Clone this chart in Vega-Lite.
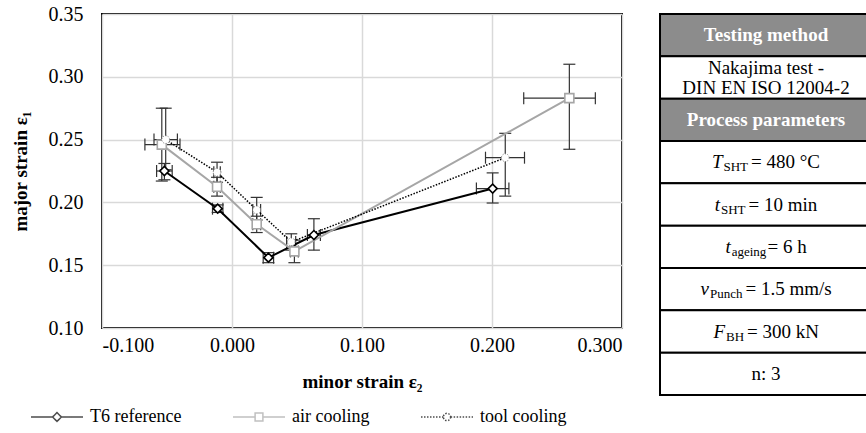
{
  "$schema": "https://vega.github.io/schema/vega-lite/v6.json",
  "padding": {"left": 10, "top": 3, "right": 0, "bottom": 0},
  "background": "white",
  "spacing": 36,
  "config": {
    "font": "Liberation Serif",
    "view": {"stroke": "black", "strokeWidth": 2},
    "axis": {
      "labelFont": "Liberation Serif", "titleFont": "Liberation Serif",
      "labelColor": "black", "titleColor": "black",
      "labelFontSize": 20, "titleFontSize": 19, "titleFontWeight": "bold",
      "domain": false, "ticks": false, "tickSize": 0,
      "gridColor": "#d9d9d9", "gridWidth": 1.5
    },
    "legend": {"labelFont": "Liberation Serif", "labelFontSize": 18, "labelColor": "black"}
  },
  "hconcat": [
    {
      "width": 520,
      "height": 314,
      "data": {"values": [
        {"series": "T6 reference", "x": -0.052, "y": 0.225, "xlo": -0.058, "xhi": -0.046, "ylo": 0.218, "yhi": 0.231},
        {"series": "T6 reference", "x": -0.011, "y": 0.195, "xlo": -0.015, "xhi": -0.007, "ylo": 0.192, "yhi": 0.198},
        {"series": "T6 reference", "x": 0.028, "y": 0.156, "xlo": 0.024, "xhi": 0.032, "ylo": 0.152, "yhi": 0.160},
        {"series": "T6 reference", "x": 0.063, "y": 0.174, "xlo": 0.058, "xhi": 0.068, "ylo": 0.162, "yhi": 0.187},
        {"series": "T6 reference", "x": 0.2005, "y": 0.211, "xlo": 0.188, "xhi": 0.213, "ylo": 0.1995, "yhi": 0.2235},
        {"series": "air cooling", "x": -0.054, "y": 0.246, "xlo": -0.067, "xhi": -0.040, "ylo": 0.217, "yhi": 0.275},
        {"series": "air cooling", "x": -0.0115, "y": 0.2125, "xlo": -0.014, "xhi": -0.009, "ylo": 0.205, "yhi": 0.220},
        {"series": "air cooling", "x": 0.019, "y": 0.1826, "xlo": 0.016, "xhi": 0.022, "ylo": 0.176, "yhi": 0.189},
        {"series": "air cooling", "x": 0.048, "y": 0.161, "xlo": 0.045, "xhi": 0.051, "ylo": 0.152, "yhi": 0.170},
        {"series": "air cooling", "x": 0.2595, "y": 0.283, "xlo": 0.2244, "xhi": 0.2795, "ylo": 0.2423, "yhi": 0.310},
        {"series": "tool cooling", "x": -0.051, "y": 0.250, "xlo": -0.060, "xhi": -0.042, "ylo": 0.226, "yhi": 0.275},
        {"series": "tool cooling", "x": -0.0115, "y": 0.224, "xlo": -0.014, "xhi": -0.009, "ylo": 0.216, "yhi": 0.232},
        {"series": "tool cooling", "x": 0.019, "y": 0.194, "xlo": 0.016, "xhi": 0.022, "ylo": 0.186, "yhi": 0.204},
        {"series": "tool cooling", "x": 0.0456, "y": 0.1685, "xlo": 0.042, "xhi": 0.049, "ylo": 0.162, "yhi": 0.175},
        {"series": "tool cooling", "x": 0.2102, "y": 0.2356, "xlo": 0.195, "xhi": 0.225, "ylo": 0.205, "yhi": 0.255}
      ]},
      "encoding": {
        "x": {"field": "x", "type": "quantitative",
          "scale": {"domain": [-0.1, 0.3], "nice": false, "zero": false},
          "axis": {"title": "minor strain ε₂", "values": [-0.1, 0, 0.1, 0.2, 0.3],
            "labelExpr": "datum.value < 0 ? '-' + format(-datum.value, '.3f') : format(datum.value, '.3f')",
            "labelPadding": 7, "titlePadding": 17, "grid": true}},
        "y": {"field": "y", "type": "quantitative",
          "scale": {"domain": [0.1, 0.35], "nice": false, "zero": false},
          "axis": {"title": "major strain ε₁", "values": [0.1, 0.15, 0.2, 0.25, 0.3, 0.35],
            "format": ".2f", "labelPadding": 19, "titlePadding": 18, "grid": true}}
      },
      "layer": [
        {"mark": {"type": "rule", "color": "#333333", "strokeWidth": 1.2},
         "encoding": {"y": {"field": "ylo", "type": "quantitative"}, "y2": {"field": "yhi"}}},
        {"mark": {"type": "rule", "color": "#333333", "strokeWidth": 1.2},
         "encoding": {"x": {"field": "xlo", "type": "quantitative"}, "x2": {"field": "xhi"}}},
        {"mark": {"type": "point", "shape": "stroke", "color": "#333333", "size": 144, "strokeWidth": 1.2, "opacity": 1},
         "encoding": {"y": {"field": "ylo", "type": "quantitative"}}},
        {"mark": {"type": "point", "shape": "stroke", "color": "#333333", "size": 144, "strokeWidth": 1.2, "opacity": 1},
         "encoding": {"y": {"field": "yhi", "type": "quantitative"}}},
        {"mark": {"type": "point", "shape": "stroke", "angle": 90, "color": "#333333", "size": 144, "strokeWidth": 1.2, "opacity": 1},
         "encoding": {"x": {"field": "xlo", "type": "quantitative"}}},
        {"mark": {"type": "point", "shape": "stroke", "angle": 90, "color": "#333333", "size": 144, "strokeWidth": 1.2, "opacity": 1},
         "encoding": {"x": {"field": "xhi", "type": "quantitative"}}},
        {"transform": [{"filter": "datum.series === 'T6 reference'"}],
         "mark": {"type": "line", "color": "black", "strokeWidth": 2}, "encoding": {}},
        {"transform": [{"filter": "datum.series === 'air cooling'"}],
         "mark": {"type": "line", "color": "#a6a6a6", "strokeWidth": 2}, "encoding": {}},
        {"transform": [{"filter": "datum.series === 'tool cooling'"}],
         "mark": {"type": "line", "color": "black", "strokeWidth": 1.5, "strokeDash": [1.5, 1.5]}, "encoding": {}},
        {"transform": [{"filter": "datum.series === 'T6 reference'"}],
         "mark": {"type": "point", "shape": "diamond", "filled": true, "fill": "white", "stroke": "black", "strokeWidth": 1.6, "size": 81, "opacity": 1}},
        {"transform": [{"filter": "datum.series === 'air cooling'"}],
         "mark": {"type": "point", "shape": "square", "filled": true, "fill": "white", "stroke": "#a6a6a6", "strokeWidth": 1.6, "size": 81, "opacity": 1}},
        {"transform": [{"filter": "datum.series === 'tool cooling'"}],
         "mark": {"type": "point", "shape": "circle", "filled": true, "fill": "white", "stroke": "#777777", "strokeWidth": 1, "strokeDash": [1, 1.5], "size": 60, "opacity": 1}},
        {"transform": [{"filter": "false"}],
         "mark": {"type": "point", "filled": false},
         "encoding": {
           "shape": {"field": "series", "type": "nominal",
             "scale": {"domain": ["T6 reference", "air cooling", "tool cooling"],
               "range": [
                 "M-1,0H-0.17M0.17,0H1M0,-0.17L0.17,0L0,0.17L-0.17,0Z",
                 "M-1,0H-0.15M0.15,0H1M-0.15,-0.15H0.15V0.15H-0.15Z",
                 "M-1,0H-0.14M0.14,0H1M0.14,0A0.14,0.14,0,1,1,-0.14,0A0.14,0.14,0,1,1,0.14,0Z"]},
             "legend": {"orient": "none", "legendX": -72, "legendY": 376, "direction": "horizontal", "title": null,
               "symbolSize": 2704, "symbolStrokeWidth": 1.5, "columnPadding": 48, "labelOffset": 6, "symbolFillColor": "white"}},
           "color": {"field": "series", "type": "nominal",
             "scale": {"domain": ["T6 reference", "air cooling", "tool cooling"], "range": ["black", "#a6a6a6", "black"]}},
           "strokeDash": {"field": "series", "type": "nominal",
             "scale": {"domain": ["T6 reference", "air cooling", "tool cooling"], "range": [[1, 0], [1, 0], [1.5, 1.5]]}}
         }}
      ]
    },
    {
      "width": 212,
      "height": 381,
      "data": {"values": [
        {"row": 1, "kind": "header", "text": "Testing method"},
        {"row": 2, "kind": "body", "text": ["Nakajima test -", "DIN EN ISO 12004-2"]},
        {"row": 3, "kind": "header", "text": "Process parameters"},
        {"row": 4, "kind": "param", "sym": "T", "sub": "SHT", "rest": "= 480 °C"},
        {"row": 5, "kind": "param", "sym": "t", "sub": "SHT", "rest": "= 10 min"},
        {"row": 6, "kind": "param", "sym": "t", "sub": "ageing", "rest": "= 6 h"},
        {"row": 7, "kind": "param", "sym": "v", "sub": "Punch", "rest": "= 1.5 mm/s"},
        {"row": 8, "kind": "param", "sym": "F", "sub": "BH", "rest": "= 300 kN"},
        {"row": 9, "kind": "body", "text": "n: 3"}
      ]},
      "view": {"stroke": null},
      "encoding": {
        "y": {"field": "row", "type": "ordinal", "axis": null, "scale": {"paddingInner": 0, "paddingOuter": 0}},
        "x": {"datum": 0.5, "type": "quantitative", "axis": null, "scale": {"domain": [0, 1], "nice": false, "zero": false}}
      },
      "layer": [
        {"mark": {"type": "rect", "stroke": "black", "strokeWidth": 2},
         "encoding": {
           "x": {"datum": 0, "type": "quantitative"},
           "x2": {"datum": 1},
           "fill": {"field": "kind", "type": "nominal", "scale": {"domain": ["header", "body", "param"], "range": ["#8c8c8c", "white", "white"]}, "legend": null}
         }},
        {"transform": [{"filter": "datum.kind === 'header'"}],
         "mark": {"type": "text", "fontSize": 19, "fontWeight": "bold", "color": "white"},
         "encoding": {"text": {"field": "text"}}},
        {"transform": [{"filter": "datum.row === 2"}],
         "mark": {"type": "text", "fontSize": 19, "color": "black", "lineHeight": 20, "dy": -10},
         "encoding": {"text": {"field": "text"}}},
        {"transform": [{"filter": "datum.row === 9"}],
         "mark": {"type": "text", "fontSize": 19, "color": "black"},
         "encoding": {"text": {"field": "text"}}},
        {"transform": [{"filter": "datum.row === 4"}], "mark": {"type": "text", "color": "black", "fontSize": 19, "fontStyle": "italic", "align": "right", "dx": -43.5}, "encoding": {"text": {"field": "sym"}}},
        {"transform": [{"filter": "datum.row === 4"}], "mark": {"type": "text", "color": "black", "dy": 5, "fontSize": 13, "align": "left", "dx": -42.5}, "encoding": {"text": {"field": "sub"}}},
        {"transform": [{"filter": "datum.row === 4"}], "mark": {"type": "text", "color": "black", "fontSize": 19, "align": "left", "dx": -15}, "encoding": {"text": {"field": "rest"}}},
        {"transform": [{"filter": "datum.row === 5"}], "mark": {"type": "text", "color": "black", "fontSize": 19, "fontStyle": "italic", "align": "right", "dx": -46}, "encoding": {"text": {"field": "sym"}}},
        {"transform": [{"filter": "datum.row === 5"}], "mark": {"type": "text", "color": "black", "dy": 5, "fontSize": 13, "align": "left", "dx": -45}, "encoding": {"text": {"field": "sub"}}},
        {"transform": [{"filter": "datum.row === 5"}], "mark": {"type": "text", "color": "black", "fontSize": 19, "align": "left", "dx": -17.5}, "encoding": {"text": {"field": "rest"}}},
        {"transform": [{"filter": "datum.row === 6"}], "mark": {"type": "text", "color": "black", "fontSize": 19, "fontStyle": "italic", "align": "right", "dx": -35.3}, "encoding": {"text": {"field": "sym"}}},
        {"transform": [{"filter": "datum.row === 6"}], "mark": {"type": "text", "color": "black", "dy": 5, "fontSize": 13, "align": "left", "dx": -34.3}, "encoding": {"text": {"field": "sub"}}},
        {"transform": [{"filter": "datum.row === 6"}], "mark": {"type": "text", "color": "black", "fontSize": 19, "align": "left", "dx": 1.5}, "encoding": {"text": {"field": "rest"}}},
        {"transform": [{"filter": "datum.row === 7"}], "mark": {"type": "text", "color": "black", "fontSize": 19, "fontStyle": "italic", "align": "right", "dx": -57}, "encoding": {"text": {"field": "sym"}}},
        {"transform": [{"filter": "datum.row === 7"}], "mark": {"type": "text", "color": "black", "dy": 5, "fontSize": 13, "align": "left", "dx": -56}, "encoding": {"text": {"field": "sub"}}},
        {"transform": [{"filter": "datum.row === 7"}], "mark": {"type": "text", "color": "black", "fontSize": 19, "align": "left", "dx": -20.5}, "encoding": {"text": {"field": "rest"}}},
        {"transform": [{"filter": "datum.row === 8"}], "mark": {"type": "text", "color": "black", "fontSize": 19, "fontStyle": "italic", "align": "right", "dx": -41}, "encoding": {"text": {"field": "sym"}}},
        {"transform": [{"filter": "datum.row === 8"}], "mark": {"type": "text", "color": "black", "dy": 5, "fontSize": 13, "align": "left", "dx": -40}, "encoding": {"text": {"field": "sub"}}},
        {"transform": [{"filter": "datum.row === 8"}], "mark": {"type": "text", "color": "black", "fontSize": 19, "align": "left", "dx": -19}, "encoding": {"text": {"field": "rest"}}}
      ]
    }
  ]
}
